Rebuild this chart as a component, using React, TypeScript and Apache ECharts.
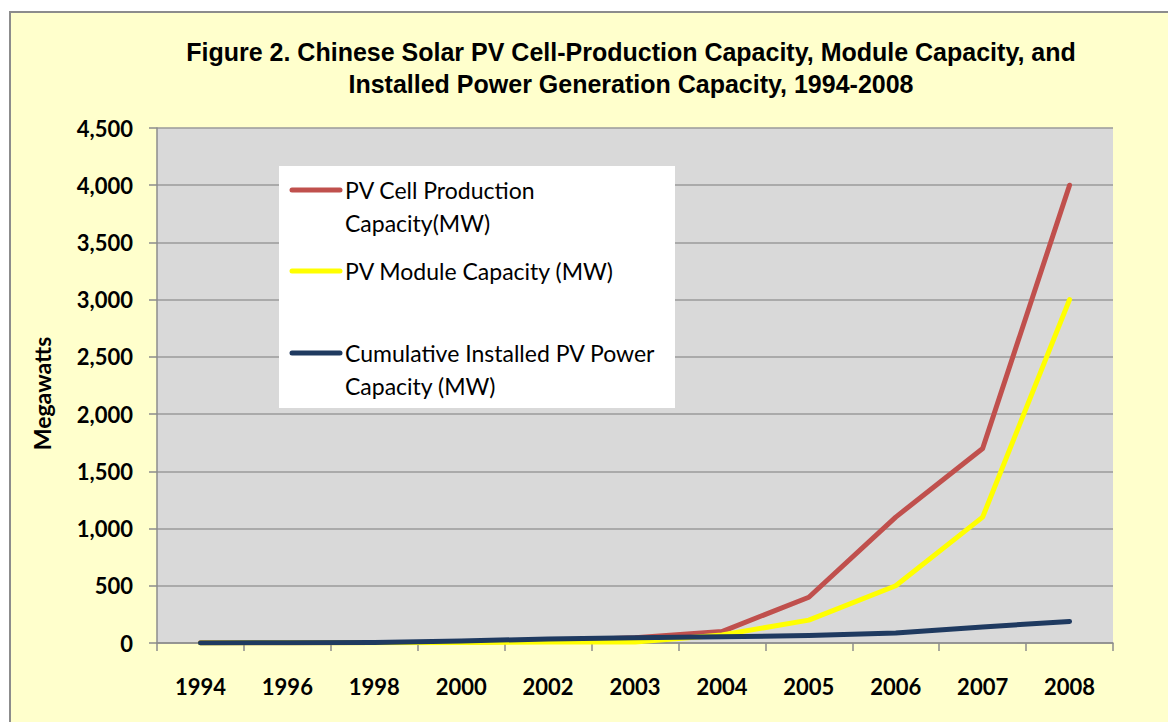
import React, { useEffect, useRef } from "react";
import * as echarts from "echarts";

const titleLines = [
  "Figure 2. Chinese Solar PV Cell-Production Capacity, Module Capacity, and",
  "Installed Power Generation Capacity, 1994-2008",
];
const yAxisName = "Megawatts";
const categories = ["1994", "1996", "1998", "2000", "2002", "2003", "2004", "2005", "2006", "2007", "2008"];
const seriesNames = [
  "PV Cell Production Capacity(MW)",
  "PV Module Capacity (MW)",
  "Cumulative Installed PV Power Capacity (MW)",
];
const legendLines = [
  ["PV Cell Production", "Capacity(MW)"],
  ["PV Module Capacity (MW)"],
  ["Cumulative Installed PV Power", "Capacity (MW)"],
];
const cellCapacity = [2, 3, 4, 5, 20, 45, 100, 400, 1100, 1700, 4000];
const moduleCapacity = [1, 2, 3, 4, 8, 8, 70, 200, 500, 1100, 3000];
const installedCapacity = [1, 2, 4, 18, 35, 45, 55, 65, 88, 140, 188];
const seriesColors = ["#C0504D", "#FFFF00", "#1F3A60"];

export default function App() {
  const ref = useRef<HTMLDivElement>(null);
  useEffect(() => {
    if (!ref.current) return;
    const chart = echarts.init(ref.current, undefined, { renderer: "svg" });
    const legendY = [190, 271, 353];
    const legendChildren: any[] = [
      {
        type: "rect",
        z: 10,
        shape: { x: 0, y: 0, width: 396, height: 242 },
        style: { fill: "#FFFFFF" },
      },
    ];
    legendLines.forEach((lines, i) => {
      const y = legendY[i] - 166;
      legendChildren.push({
        type: "line",
        z: 11,
        shape: { x1: 13, y1: y, x2: 61, y2: y },
        style: { stroke: seriesColors[i], lineWidth: 5, lineCap: "round" },
      });
      lines.forEach((t, j) => {
        legendChildren.push({
          type: "text",
          z: 11,
          x: 66,
          y: y + j * 33,
          style: {
            text: t,
            fill: "#000000",
            font: "23px Lato",
            verticalAlign: "middle",
            align: "left",
          },
        });
      });
    });
    const dataSets = [cellCapacity, moduleCapacity, installedCapacity];
    chart.setOption({
      animation: false,
      backgroundColor: "transparent",
      title: {
        text: titleLines.join("\n"),
        left: 631,
        top: 36,
        padding: 0,
        textAlign: "center",
        textStyle: {
          fontFamily: "Liberation Sans",
          fontWeight: "bold",
          fontSize: 25,
          lineHeight: 32,
          color: "#000000",
        },
      },
      grid: {
        left: 157,
        top: 128,
        right: 55,
        bottom: 79,
        show: true,
        backgroundColor: "#D9D9D9",
        borderWidth: 0,
      },
      xAxis: {
        type: "category",
        data: categories,
        boundaryGap: true,
        axisLine: { show: true, lineStyle: { color: "#8C8C8C", width: 1.5 } },
        axisTick: { show: true, length: 8, lineStyle: { color: "#8C8C8C", width: 1.5 } },
        axisLabel: {
          margin: 32,
          fontFamily: "Lato",
          fontWeight: "bold",
          fontSize: 22,
          color: "#000000",
        },
        splitLine: { show: false },
      },
      yAxis: {
        type: "value",
        min: 0,
        max: 4500,
        interval: 500,
        name: yAxisName,
        nameLocation: "middle",
        nameGap: 104,
        nameTextStyle: {
          fontFamily: "Lato",
          fontWeight: "bold",
          fontSize: 23,
          color: "#000000",
          padding: [0, 16, 0, 0],
        },
        axisLine: { show: true, lineStyle: { color: "#8C8C8C", width: 1.5 } },
        axisTick: { show: true, length: 8, lineStyle: { color: "#8C8C8C", width: 1.5 } },
        axisLabel: {
          margin: 24,
          fontFamily: "Lato",
          fontWeight: "bold",
          fontSize: 22,
          color: "#000000",
          formatter: (v: number) => v.toLocaleString("en-US"),
        },
        splitLine: { show: true, lineStyle: { color: "#9A9A9A", width: 1.5 } },
      },
      series: seriesNames.map((name, i) => ({
        name,
        type: "line",
        data: dataSets[i],
        symbol: "none",
        smooth: false,
        z: 2 + i,
        lineStyle: { color: seriesColors[i], width: 5, cap: "round", join: "round" },
      })),
      graphic: [
        {
          type: "group",
          x: 279,
          y: 166,
          z: 10,
          children: legendChildren,
        },
      ],
    });
    return () => chart.dispose();
  }, []);
  return (
    <div style={{ position: "fixed", left: 0, top: 0, width: 1168, height: 722, background: "#FFFFFF", overflow: "hidden" }}>
      <div
        style={{
          position: "absolute",
          left: 9,
          top: 11,
          width: 1220,
          height: 760,
          border: "2px solid #8C8C8C",
          background: "#FFFFCC",
        }}
      />
      <div ref={ref} style={{ position: "absolute", left: 0, top: 0, width: 1168, height: 722 }} />
    </div>
  );
}
